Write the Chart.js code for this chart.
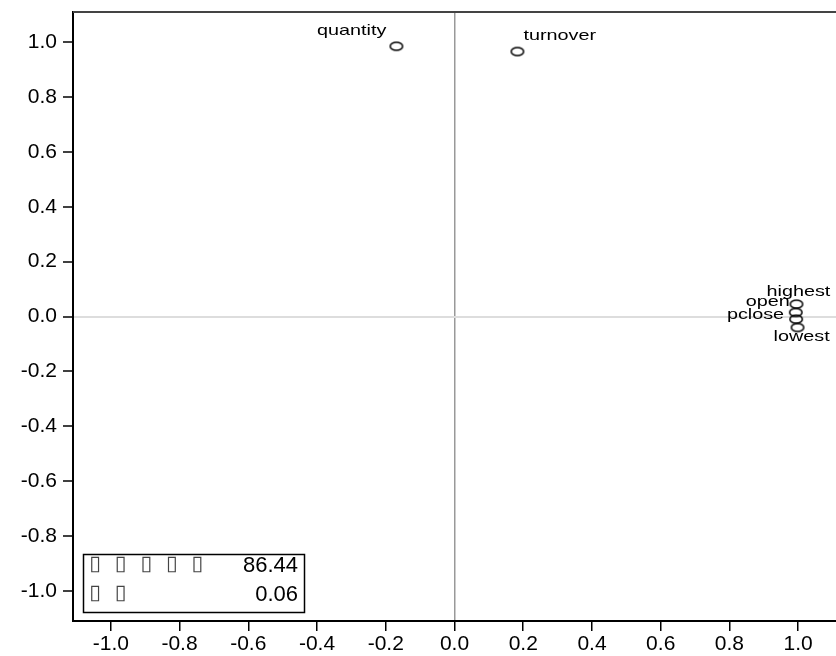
<!DOCTYPE html>
<html>
<head>
<meta charset="utf-8">
<script src="https://cdn.jsdelivr.net/npm/chart.js@4/dist/chart.umd.min.js"></script>
<style>
html,body{margin:0;padding:0;background:#fff;}
canvas{display:block;}
</style>
</head>
<body>
<canvas id="c" width="836" height="656"></canvas>
<script>
// ---- data ----
const pointNames = ['quantity', 'turnover', 'highest', 'open', 'pclose', 'lowest'];
const xValues = [-0.169, 0.183, 0.995, 0.993, 0.994, 0.998];
const yValues = [0.985, 0.966, 0.045, 0.015, -0.010, -0.040];
const xTicks = [-1.0, -0.8, -0.6, -0.4, -0.2, 0.0, 0.2, 0.4, 0.6, 0.8, 1.0];
const yTicks = [-1.0, -0.8, -0.6, -0.4, -0.2, 0.0, 0.2, 0.4, 0.6, 0.8, 1.0];
const legendNames = ['▯▯▯▯▯', '▯▯'];
const legendValues = ['86.44', '0.06'];

// ---- label placement (style) ----
const labelPlace = {
  quantity: {dx: -10, dy: -11.5, align: 'right'},
  turnover: {dx: 6, dy: -12, align: 'left'},
  highest: {dx: -30, dy: -8.5, align: 'left'},
  open: {dx: -6, dy: -6, align: 'right'},
  pclose: {dx: -12, dy: 0, align: 'right'},
  lowest: {dx: -24, dy: 14, align: 'left'}
};

function makeEllipse() {
  const c = document.createElement('canvas');
  c.width = 16; c.height = 12;
  const g = c.getContext('2d');
  g.lineWidth = 1.5;
  g.strokeStyle = '#000';
  g.beginPath();
  g.ellipse(8, 6, 6.2, 4.0, 0, 0, 2 * Math.PI);
  g.stroke();
  return c;
}

function stretchText(ctx, text, x, y, align, sx) {
  ctx.save();
  const w = ctx.measureText(text).width * sx;
  let left = x;
  if (align === 'right') left = x - w;
  else if (align === 'center') left = x - w / 2;
  ctx.translate(left, y);
  ctx.scale(sx, 1);
  ctx.textAlign = 'left';
  ctx.fillText(text, 0, 0);
  ctx.restore();
}

const labelPlugin = {
  id: 'labels',
  afterDatasetsDraw(chart) {
    const ctx = chart.ctx;
    const meta = chart.getDatasetMeta(0);
    ctx.save();
    ctx.fillStyle = '#000';
    ctx.font = '15px "Liberation Sans", Arial, sans-serif';
    ctx.textBaseline = 'alphabetic';
    meta.data.forEach((el, i) => {
      const name = pointNames[i];
      const p = labelPlace[name];
      stretchText(ctx, name, el.x + p.dx, el.y + p.dy, p.align, 1.32);
    });
    ctx.restore();
  }
};

const framePlugin = {
  id: 'frame',
  afterDraw(chart) {
    const ctx = chart.ctx;
    const a = chart.chartArea;
    ctx.save();
    ctx.strokeStyle = '#444';
    ctx.lineWidth = 2;
    ctx.beginPath();
    ctx.moveTo(a.left, a.top);
    ctx.lineTo(chart.width, a.top);
    ctx.stroke();

    // legend box
    ctx.strokeStyle = '#000';
    ctx.lineWidth = 1.5;
    ctx.strokeRect(83.5, 554.5, 221, 58);
    const rowsY = [565, 594];
    ctx.textBaseline = 'middle';
    legendNames.forEach((nm, r) => {
      ctx.font = '21px "DejaVu Sans", sans-serif';
      ctx.fillStyle = '#444';
      ctx.textAlign = 'center';
      [...nm].forEach((ch, k) => {
        ctx.fillText(ch, 95 + k * 25.6, rowsY[r]);
      });
      ctx.fillStyle = '#000';
      ctx.font = '22px "Liberation Sans", Arial, sans-serif';
      ctx.textAlign = 'right';
      ctx.fillText(legendValues[r], 298, rowsY[r] + 1);
    });
    ctx.restore();
  }
};

const tickFont = {family: '"Liberation Sans", Arial, sans-serif', size: 21};

new Chart(document.getElementById('c'), {
  type: 'scatter',
  data: {
    datasets: [{
      data: xValues.map((x, i) => ({x: x, y: yValues[i]})),
      pointStyle: makeEllipse(),
      pointRadius: 6,
      pointHoverRadius: 6
    }]
  },
  options: {
    responsive: false,
    animation: false,
    devicePixelRatio: 1,
    layout: {autoPadding: false, padding: {top: 12, right: 0, left: 0, bottom: 0}},
    plugins: {legend: {display: false}, tooltip: {enabled: false}},
    scales: {
      x: {
        type: 'linear',
        min: -1.11, max: 1.11,
        afterBuildTicks(s) { s.ticks = xTicks.map(v => ({value: v})); },
        afterFit(s) { s.height = 35; s.paddingLeft = 0; s.paddingRight = 0; },
        border: {display: true, color: '#000', width: 2},
        grid: {
          drawOnChartArea: true,
          drawTicks: true,
          tickLength: 10,
          tickColor: '#000',
          tickWidth: 1.5,
          color: (c) => (c.tick && c.tick.value === 0 ? '#999' : 'rgba(0,0,0,0)'),
          lineWidth: 1.5
        },
        ticks: {
          color: '#000',
          font: tickFont,
          padding: 1,
          maxRotation: 0,
          autoSkip: false,
          callback: (v) => Number(v).toFixed(1)
        }
      },
      y: {
        type: 'linear',
        min: -1.11, max: 1.11,
        afterBuildTicks(s) { s.ticks = yTicks.map(v => ({value: v})); },
        afterFit(s) { s.width = 73; s.paddingTop = 0; s.paddingBottom = 0; },
        border: {display: true, color: '#000', width: 2},
        grid: {
          drawOnChartArea: true,
          drawTicks: true,
          tickLength: 10,
          tickColor: '#000',
          tickWidth: 1.5,
          color: (c) => (c.tick && c.tick.value === 0 ? '#ddd' : 'rgba(0,0,0,0)'),
          lineWidth: 2
        },
        ticks: {
          color: '#000',
          font: tickFont,
          padding: 6,
          autoSkip: false,
          callback: (v) => Number(v).toFixed(1)
        }
      }
    }
  },
  plugins: [labelPlugin, framePlugin]
});
</script>
</body>
</html>
